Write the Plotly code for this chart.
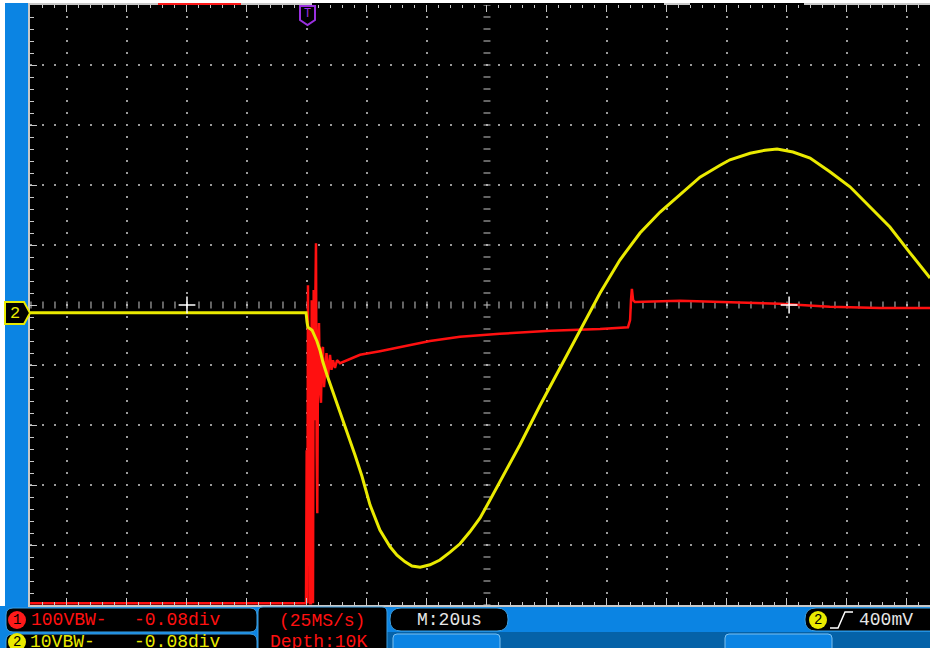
import numpy as np
import plotly.graph_objects as go

# scope colours
SCREEN_BG = "#000000"
PANEL_BLUE = "#0b84e3"
PANEL_DARK = "#0562a8"
FRAME_GREY = "#c8c8c8"
GRID_GREY = "#9a9a9a"
CH1_RED = "#ff1010"
CH2_YELLOW = "#eaea00"
MONO = "Liberation Mono, DejaVu Sans Mono, monospace"

# CH2 (yellow) - time in us from trigger, level in divisions
ch2_t = [-92.3, -0.3, 0.0, 0.3, 1.7, 2.7, 3.3, 4.3, 5.3, 6.7, 8.7, 11.0, 13.3, 16.0,
         18.3, 21.0, 24.3, 27.7, 30.0, 32.7, 35.0, 37.7, 41.0, 44.3, 47.7, 51.0,
         54.3, 57.7, 61.0, 64.3, 71.0, 77.7, 84.3, 91.0, 97.7, 104.3, 111.0, 117.7,
         124.3, 131.0, 137.7, 141.0, 147.7, 152.7, 156.7, 162.0, 167.7, 174.3, 181.0,
         187.7, 194.3, 201.0, 207.7]
ch2_v = [-0.13, -0.13, -0.28, -0.37, -0.42, -0.52, -0.60, -0.75, -0.95, -1.17, -1.45,
         -1.78, -2.12, -2.50, -2.85, -3.33, -3.75, -4.03, -4.17, -4.28, -4.35, -4.37,
         -4.33, -4.25, -4.12, -3.98, -3.78, -3.55, -3.25, -2.95, -2.33, -1.67, -1.05,
         -0.42, 0.20, 0.75, 1.20, 1.55, 1.83, 2.13, 2.33, 2.42, 2.53, 2.58, 2.60, 2.55,
         2.45, 2.22, 1.97, 1.63, 1.30, 0.87, 0.45]

# CH1 (red)
ch1_t = [-92.3, -0.33, -0.1, 0.1, 0.33, 0.57, 0.77, 1.0, 1.33, 1.57, 1.77, 2.0, 2.23,
         2.43, 2.67, 3.0, 3.23, 3.43, 3.67, 4.0, 4.33, 4.67, 5.0, 5.33, 5.67, 6.0, 6.5,
         7.0, 7.67, 8.17, 8.67, 9.33, 10.0, 11.0, 13.3, 17.7, 24.3, 31.0, 41.0, 51.0,
         64.3, 81.0, 97.7, 107.0, 107.7, 108.0, 108.3, 108.7, 109.3, 124.3, 141.0,
         157.7, 174.3, 191.0, 207.7]
ch1_v = [-4.97, -4.97, -2.42, -4.97, 0.33, -4.25, -0.42, -4.97, -4.97, 0.08, -2.75,
         -4.97, 0.25, -1.92, -0.42, 1.03, -2.42, -3.47, -0.92, -0.30, -1.42, -1.63,
         -0.75, -0.70, -1.37, -1.17, -0.80, -1.20, -0.83, -1.08, -0.92, -1.05, -0.92,
         -0.97, -0.92, -0.83, -0.77, -0.70, -0.60, -0.53, -0.48, -0.43, -0.40, -0.37,
         -0.25, 0.08, 0.27, 0.08, 0.05, 0.07, 0.05, 0.02, -0.03, -0.05, -0.05]

# white cursor crosses
cursor_t = [-40.0, 160.7]
cursor_v = [0.0, 0.0]

T_MIN, T_MAX = -92.33, 207.67
V_MIN, V_MAX = -5.0, 5.0
T_CENTER = 60.0


def px(x):
    """screen pixel x -> paper x"""
    return (x - 30) / 900


def py(y):
    """screen pixel y -> paper y"""
    return (605 - y) / 600


def rounded_path(x0, y0, x1, y1, r):
    """Rounded rectangle path in paper coordinates, built from pixel values."""
    pts = [
        f"M{px(x0 + r)},{py(y0)}",
        f"L{px(x1 - r)},{py(y0)}",
        f"Q{px(x1)},{py(y0)} {px(x1)},{py(y0 + r)}",
        f"L{px(x1)},{py(y1 - r)}",
        f"Q{px(x1)},{py(y1)} {px(x1 - r)},{py(y1)}",
        f"L{px(x0 + r)},{py(y1)}",
        f"Q{px(x0)},{py(y1)} {px(x0)},{py(y1 - r)}",
        f"L{px(x0)},{py(y0 + r)}",
        f"Q{px(x0)},{py(y0)} {px(x0 + r)},{py(y0)}",
        "Z",
    ]
    return " ".join(pts)


def poly_path(points):
    return "M" + " L".join(f"{px(x)},{py(y)}" for x, y in points) + " Z"


def rect(x0, y0, x1, y1, color):
    return dict(type="rect", xref="paper", yref="paper", x0=px(x0), x1=px(x1),
                y0=py(y1), y1=py(y0), fillcolor=color, line_width=0, layer="above")


def box(x0, y0, x1, y1, r, fill="black", edge="#3d9ee0"):
    return dict(type="path", xref="paper", yref="paper", path=rounded_path(x0, y0, x1, y1, r),
                fillcolor=fill, line=dict(color=edge, width=1), layer="above")


def badge(cx, cy, color):
    return dict(type="circle", xref="paper", yref="paper", x0=px(cx - 9), x1=px(cx + 9),
                y0=py(cy + 9), y1=py(cy - 9), fillcolor=color, line_width=0, layer="above")


def label(text, x, y, color, size=18, anchor="left"):
    return dict(text=text, x=px(x), y=py(y), xref="paper", yref="paper",
                xanchor=anchor, yanchor="middle", showarrow=False,
                font=dict(family=MONO, size=size, color=color))


def graticule_dots():
    """Dotted graticule: vertical lines every 20 us, horizontal every div, dots every 1/5 div."""
    xs, ys = [], []
    fine_v = np.round(np.arange(-4.8, 4.81, 0.2), 2)
    fine_t = np.arange(-92, 208, 4)
    for t in np.arange(-80, 201, 20):
        if t == T_CENTER:
            continue
        xs.extend([t] * len(fine_v))
        ys.extend(fine_v)
    for v in range(-4, 5):
        if v == 0:
            continue
        xs.extend(fine_t)
        ys.extend([v] * len(fine_t))
    return xs, ys


fig = go.Figure()

gx, gy = graticule_dots()
fig.add_trace(go.Scatter(x=gx, y=gy, mode="markers",
                         marker=dict(symbol="square", size=2, color=GRID_GREY, line_width=0),
                         hoverinfo="skip"))

# centre cross ticks
h_ticks = np.arange(-92, 208, 4)
v_ticks = np.round(np.arange(-5, 5.01, 0.2), 2)
fig.add_trace(go.Scatter(x=h_ticks, y=np.zeros(len(h_ticks)), mode="markers",
                         marker=dict(symbol="line-ns", size=5, line=dict(width=1, color=FRAME_GREY)),
                         hoverinfo="skip"))
fig.add_trace(go.Scatter(x=np.full(len(v_ticks), T_CENTER), y=v_ticks, mode="markers",
                         marker=dict(symbol="line-ew", size=5, line=dict(width=1, color=FRAME_GREY)),
                         hoverinfo="skip"))

fig.add_trace(go.Scatter(x=ch1_t, y=ch1_v, mode="lines",
                         line=dict(color=CH1_RED, width=2.5), name="CH1"))
fig.add_trace(go.Scatter(x=ch2_t, y=ch2_v, mode="lines",
                         line=dict(color=CH2_YELLOW, width=3), name="CH2"))
fig.add_trace(go.Scatter(x=cursor_t, y=cursor_v, mode="markers",
                         marker=dict(symbol="cross-thin", size=12, line=dict(width=1.5, color="white")),
                         hoverinfo="skip"))

fig.update_layout(
    width=930, height=648, autosize=False,
    margin=dict(l=30, r=0, t=5, b=43, pad=0),
    plot_bgcolor=SCREEN_BG,
    paper_bgcolor=PANEL_BLUE,
    showlegend=False,
)

fig.update_xaxes(
    range=[T_MIN, T_MAX], showticklabels=False, zeroline=False, showgrid=False,
    tick0=0, dtick=20,
    showline=True, linecolor=FRAME_GREY, linewidth=2, mirror="allticks",
    ticks="inside", ticklen=7, tickcolor=FRAME_GREY, tickwidth=1,
    minor=dict(ticks="inside", ticklen=3, tick0=0, dtick=4, tickcolor=FRAME_GREY, showgrid=False),
)
fig.update_yaxes(
    range=[V_MIN, V_MAX], showticklabels=False, zeroline=False, showgrid=False,
    tick0=0, dtick=1,
    showline=True, linecolor=FRAME_GREY, linewidth=2, mirror=False,
    ticks="inside", ticklen=7, tickcolor=FRAME_GREY, tickwidth=1,
    minor=dict(ticks="inside", ticklen=4, tick0=0, dtick=0.2, tickcolor=FRAME_GREY, showgrid=False),
)

shapes = [
    # white border of the capture
    rect(0, 0, 5, 606, "white"),
    rect(0, 0, 930, 3, "white"),
    # top status strip
    rect(158, 3, 241, 5, "#ff1a1a"),
    rect(312, 3, 664, 5, "black"),
    rect(690, 3, 804, 5, "black"),
    # bottom panel
    rect(387, 632, 930, 648, PANEL_DARK),
    box(393, 634, 500, 660, 4, fill=PANEL_BLUE, edge="#7cc0f0"),
    box(725, 634, 832, 660, 4, fill=PANEL_BLUE, edge="#7cc0f0"),
    box(6, 608, 257, 632, 7),
    box(6, 634, 257, 660, 7),
    box(258, 607, 387, 660, 5),
    box(390, 608, 508, 631, 11),
    box(805, 608, 950, 631, 11),
    badge(17, 620, "#ff1a1a"),
    badge(17, 642, CH2_YELLOW),
    badge(818, 620, CH2_YELLOW),
    # trigger edge symbol
    dict(type="path", xref="paper", yref="paper",
         path=f"M{px(830)},{py(628)} L{px(838)},{py(628)} L{px(845)},{py(612)} L{px(853)},{py(612)}",
         line=dict(color="white", width=1.5), layer="above"),
    # channel 2 level marker on the left
    dict(type="path", xref="paper", yref="paper",
         path=poly_path([(5, 302), (24, 302), (30, 313), (24, 324), (5, 324)]),
         fillcolor="black", line=dict(color=CH2_YELLOW, width=2), layer="above"),
    # trigger position marker
    dict(type="path", xref="paper", yref="paper",
         path=poly_path([(300, 6), (315, 6), (315, 20), (307.5, 25), (300, 20)]),
         fillcolor="black", line=dict(color="#9a30e0", width=2), layer="above"),
]
fig.update_layout(shapes=shapes)

annotations = [
    label("2", 15, 313, CH2_YELLOW, size=17, anchor="center"),
    label("T", 307.5, 14, "#9a30e0", size=12, anchor="center"),
    label("1", 17, 620, "black", size=14, anchor="center"),
    label("100VBW-", 29, 620, CH1_RED),
    label("-0.08div", 132, 620, CH1_RED),
    label("2", 17, 642, "black", size=14, anchor="center"),
    label("10VBW-", 28, 642, CH2_YELLOW),
    label("-0.08div", 132, 642, CH2_YELLOW),
    label("(25MS/s)", 322, 621, CH1_RED, anchor="center"),
    label("Depth:10K", 268, 642, CH1_RED),
    label("M:20us", 449, 620, "#e6e6e6", anchor="center"),
    label("2", 818, 620, "black", size=14, anchor="center"),
    label("400mV", 857, 620, "#e6e6e6"),
]
fig.update_layout(annotations=annotations)

fig.write_html("out.html", config={"displayModeBar": False},
               post_script="document.body.style.margin='0';")
